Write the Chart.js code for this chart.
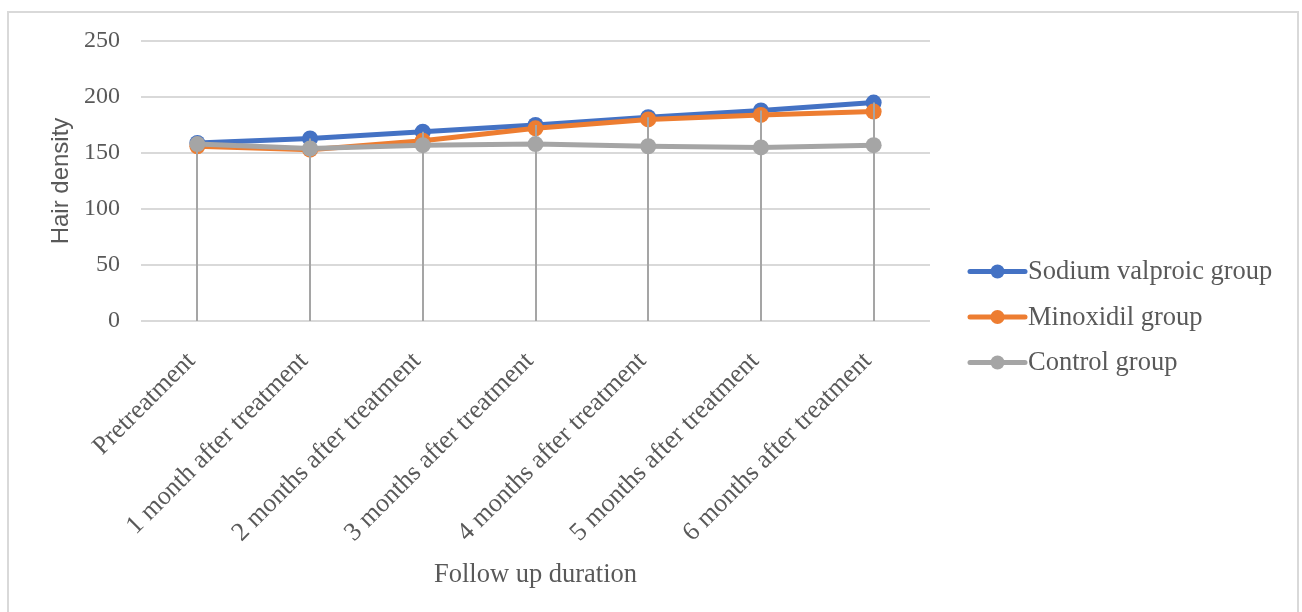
<!DOCTYPE html>
<html>
<head>
<meta charset="utf-8">
<title>Hair density over follow up</title>
<script src="https://cdn.jsdelivr.net/npm/chart.js@4/dist/chart.umd.min.js"></script>
<style>
  html, body { margin: 0; padding: 0; background: #ffffff; }
  #wrap { position: relative; width: 1302px; height: 612px; overflow: hidden; }
  #frame {
    position: absolute; left: 7px; top: 11px; width: 1292px; height: 640px;
    border: 2px solid #d9d9d9; pointer-events: none; box-sizing: border-box;
  }
  canvas { position: absolute; left: 0; top: 0; }
</style>
</head>
<body>
<div id="wrap">
  <div id="frame"></div>
  <canvas id="chart" width="1302" height="612"></canvas>
</div>
<script>
// Follow-up time points
const categories = [
  'Pretreatment',
  '1 month after treatment',
  '2 months after treatment',
  '3 months after treatment',
  '4 months after treatment',
  '5 months after treatment',
  '6 months after treatment'
];

// Mean hair density per group
const sodiumValproic = [159, 163, 169, 175, 182, 188, 195];
const minoxidil      = [156, 153, 161, 172, 180, 184, 187];
const control        = [158, 154, 157, 158, 156, 155, 157];

const seriesNames  = ['Sodium valproic group', 'Minoxidil group', 'Control group'];
const seriesColors = ['#4472C4', '#ED7D31', '#A5A5A5'];

const yMin = 0, yMax = 250, yStep = 50;

const serif = "'Liberation Serif', 'Times New Roman', serif";
const textColor = '#595959';
const gridColor = '#d9d9d9';

// Vertical drop lines from the highest point of each category down to the axis
const dropLines = {
  id: 'dropLines',
  afterDatasetsDraw(chart) {
    const { ctx, scales: { x, y } } = chart;
    ctx.save();
    ctx.strokeStyle = '#A5A5A5';
    ctx.lineWidth = 2;
    categories.forEach((_, i) => {
      const top = Math.max(...chart.data.datasets.map(d => d.data[i]));
      const px = Math.round(x.getPixelForValue(i));
      ctx.beginPath();
      ctx.moveTo(px, y.getPixelForValue(top));
      ctx.lineTo(px, y.getPixelForValue(yMin));
      ctx.stroke();
    });
    ctx.restore();
  }
};

// Legend with a line-and-marker sample for each series
const sideLegend = {
  id: 'sideLegend',
  afterDraw(chart, args, opts) {
    const { ctx } = chart;
    ctx.save();
    chart.data.datasets.forEach((ds, i) => {
      const cy = opts.top + i * opts.rowGap;
      ctx.strokeStyle = ds.borderColor;
      ctx.lineWidth = 5;
      ctx.lineCap = 'round';
      ctx.beginPath();
      ctx.moveTo(opts.left, cy);
      ctx.lineTo(opts.left + opts.sample, cy);
      ctx.stroke();
      ctx.fillStyle = ds.borderColor;
      ctx.beginPath();
      ctx.arc(opts.left + opts.sample / 2, cy, 7, 0, Math.PI * 2);
      ctx.fill();
      ctx.fillStyle = textColor;
      ctx.font = '26.5px ' + serif;
      ctx.textAlign = 'left';
      ctx.textBaseline = 'middle';
      ctx.fillText(ds.label, opts.left + opts.sample + 3, cy + 1);
    });
    ctx.restore();
  }
};

const seriesValues = [sodiumValproic, minoxidil, control];

new Chart(document.getElementById('chart'), {
  type: 'line',
  data: {
    labels: categories,
    datasets: seriesValues.map((vals, i) => ({
      label: seriesNames[i],
      data: vals,
      borderColor: seriesColors[i],
      backgroundColor: seriesColors[i],
      borderWidth: 5,
      pointRadius: 8,
      pointHoverRadius: 8,
      pointBorderWidth: 0,
      tension: 0,
      order: 3 - i
    }))
  },
  options: {
    responsive: false,
    animation: false,
    devicePixelRatio: 1,
    layout: { padding: { left: 0, right: 372, top: 41, bottom: 0 } },
    plugins: {
      legend: { display: false },
      tooltip: { enabled: false },
      sideLegend: { left: 970, top: 271.5, rowGap: 45.5, sample: 55 }
    },
    scales: {
      x: {
        offset: true,
        grid: { display: false, drawTicks: false },
        border: { display: false },
        ticks: {
          autoSkip: false,
          maxRotation: 45,
          minRotation: 45,
          padding: 25,
          labelOffset: -6,
          color: textColor,
          font: { family: serif, size: 26 }
        },
        title: {
          display: true,
          text: 'Follow up duration',
          color: textColor,
          font: { family: serif, size: 26.5 },
          padding: { top: 0, bottom: 21 }
        },
        afterFit(scale) { scale.height = 291; }
      },
      y: {
        min: yMin,
        max: yMax,
        ticks: {
          stepSize: yStep,
          padding: 21,
          color: textColor,
          font: { family: serif, size: 24 }
        },
        grid: { color: gridColor, lineWidth: 2, drawTicks: false },
        border: { display: false },
        title: {
          display: true,
          text: 'Hair density',
          color: textColor,
          font: { family: "'Liberation Sans', Arial, sans-serif", size: 24 },
          padding: { top: 47, bottom: 0 }
        },
        afterFit(scale) { scale.width = 141; }
      }
    }
  },
  plugins: [dropLines, sideLegend]
});
</script>
</body>
</html>
